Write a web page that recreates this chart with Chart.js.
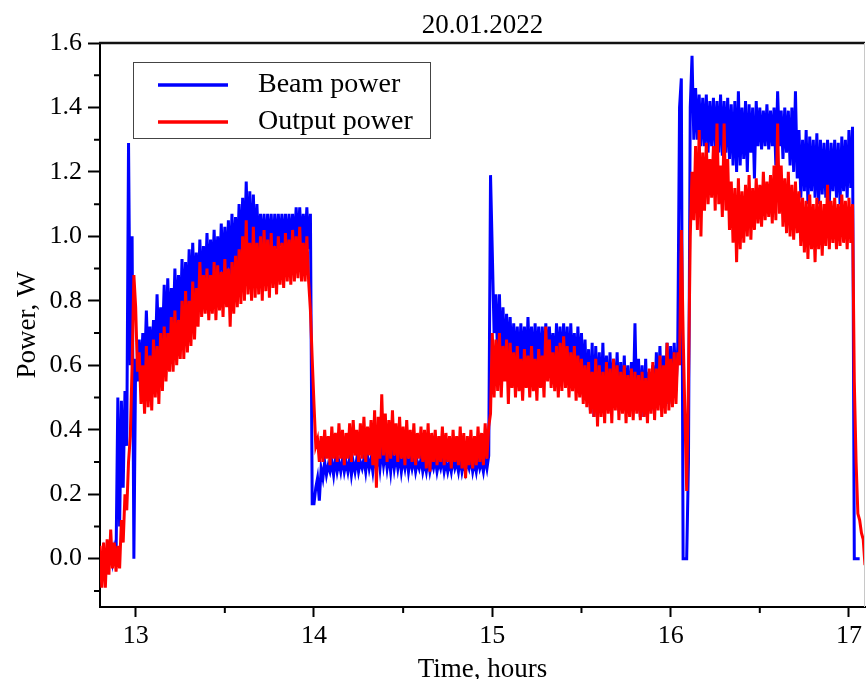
<!DOCTYPE html>
<html>
<head>
<meta charset="utf-8">
<title>Beam and output power, 20.01.2022</title>
<script src="https://cdn.jsdelivr.net/npm/chart.js@4.4.1/dist/chart.umd.min.js"></script>
<style>
  html, body { margin: 0; padding: 0; background: #fff; overflow: hidden; }
</style>
</head>
<body>
<canvas id="powerChart" width="866" height="679"></canvas>
<script>
// time grid (hours): one step every 0.02 h, two readings per step
// (upper and lower edge of the noisy trace)
const T0 = 12.80;
const DT = 0.02;

const beamHi = [
  0.02, 0.02, 0.02, 0.03, 0.03, 0.50, 0.49, 0.52, 1.29, 1.00,
  0.62, 0.68, 0.70, 0.77, 0.72, 0.74, 0.82, 0.78, 0.85, 0.87,
  0.84, 0.90, 0.88, 0.93, 0.92, 0.96, 0.98, 0.95, 0.99, 0.97,
  1.01, 0.99, 1.02, 1.00, 1.04, 1.03, 1.05, 1.07, 1.06, 1.10,
  1.12, 1.17, 1.14, 1.13, 1.10, 1.07, 1.07, 1.07, 1.07, 1.07,
  1.07, 1.07, 1.07, 1.07, 1.07, 1.09, 1.09, 1.07, 1.09, 1.07,
  0.17, 0.25, 0.28, 0.30, 0.29, 0.30, 0.31, 0.30, 0.31, 0.30,
  0.31, 0.30, 0.31, 0.30, 0.31, 0.32, 0.31, 0.32, 0.33, 0.34,
  0.33, 0.32, 0.33, 0.32, 0.32, 0.31, 0.32, 0.31, 0.31, 0.30,
  0.31, 0.30, 0.31, 0.30, 0.31, 0.30, 0.31, 0.30, 0.30, 0.31,
  0.30, 0.31, 0.30, 0.30, 0.31, 0.30, 0.31, 0.30, 0.31, 0.32,
  0.95, 0.82, 0.82, 0.78, 0.76, 0.75, 0.73, 0.72, 0.73, 0.72,
  0.75, 0.72, 0.73, 0.72, 0.72, 0.73, 0.72, 0.70, 0.73, 0.72,
  0.73, 0.72, 0.73, 0.70, 0.72, 0.70, 0.68, 0.65, 0.67, 0.66,
  0.64, 0.67, 0.63, 0.64, 0.62, 0.64, 0.61, 0.63, 0.60, 0.61,
  0.73, 0.62, 0.60, 0.62, 0.58, 0.60, 0.64, 0.66, 0.63, 0.67,
  0.66, 0.67, 0.66, 1.49, 0.00, 0.30, 1.56, 1.46, 1.44, 1.43,
  1.44, 1.42, 1.43, 1.42, 1.44, 1.42, 1.43, 1.41, 1.42, 1.45,
  1.40, 1.42, 1.41, 1.40, 1.42, 1.40, 1.39, 1.41, 1.39, 1.40,
  1.45, 1.39, 1.40, 1.39, 1.40, 1.45, 1.33, 1.30, 1.33, 1.31,
  1.30, 1.32, 1.30, 1.29, 1.30, 1.29, 1.30, 1.29, 1.31, 1.30,
  1.33, 1.34, 0.00, 0.00, null
];

const beamLo = [
  -0.02, -0.02, -0.01, -0.01, 0.00, 0.10, 0.22, 0.35, 0.60, 0.00,
  0.55, 0.56, 0.58, 0.60, 0.60, 0.62, 0.64, 0.66, 0.66, 0.68,
  0.70, 0.72, 0.72, 0.75, 0.76, 0.78, 0.80, 0.80, 0.82, 0.84,
  0.84, 0.86, 0.86, 0.86, 0.88, 0.88, 0.88, 0.90, 0.92, 0.92,
  0.94, 0.95, 0.92, 0.94, 0.95, 0.96, 0.95, 0.96, 0.95, 0.96,
  0.97, 0.96, 0.96, 0.97, 0.96, 0.97, 0.96, 0.97, 0.96, 0.17,
  0.22, 0.18, 0.25, 0.26, 0.27, 0.26, 0.27, 0.27, 0.27, 0.27,
  0.26, 0.27, 0.27, 0.28, 0.27, 0.28, 0.27, 0.28, 0.28, 0.29,
  0.28, 0.27, 0.28, 0.28, 0.27, 0.28, 0.27, 0.28, 0.27, 0.28,
  0.27, 0.27, 0.27, 0.28, 0.27, 0.28, 0.27, 0.27, 0.27, 0.28,
  0.27, 0.27, 0.27, 0.28, 0.27, 0.27, 0.28, 0.27, 0.28, 1.19,
  0.70, 0.62, 0.60, 0.60, 0.62, 0.60, 0.60, 0.58, 0.60, 0.58,
  0.60, 0.58, 0.60, 0.58, 0.60, 0.62, 0.60, 0.56, 0.58, 0.58,
  0.58, 0.56, 0.58, 0.56, 0.56, 0.54, 0.50, 0.46, 0.44, 0.48,
  0.46, 0.48, 0.46, 0.48, 0.48, 0.46, 0.47, 0.46, 0.45, 0.47,
  0.46, 0.44, 0.44, 0.44, 0.46, 0.46, 0.48, 0.47, 0.48, 0.48,
  0.50, 0.52, 1.40, 0.00, 0.00, 1.40, 1.30, 1.30, 1.28, 1.28,
  1.26, 1.28, 1.27, 1.26, 1.25, 1.26, 1.24, 1.22, 1.20, 1.22,
  1.24, 1.20, 1.26, 1.18, 1.28, 1.27, 1.28, 1.27, 1.28, 1.22,
  1.28, 1.24, 1.26, 1.22, 1.20, 1.18, 1.12, 1.14, 1.10, 1.14,
  1.12, 1.10, 1.13, 1.12, 1.10, 1.14, 1.12, 1.10, 1.14, 1.12,
  1.15, 0.00, 0.00, null, null
];

const outHi = [
  0.04, 0.05, 0.06, 0.09, 0.05, 0.04, 0.12, 0.20, 0.30, 0.60,
  0.78, 0.64, 0.60, 0.66, 0.63, 0.68, 0.66, 0.70, 0.72, 0.70,
  0.75, 0.77, 0.74, 0.80, 0.83, 0.80, 0.86, 0.84, 0.92, 0.88,
  0.90, 0.88, 0.92, 0.91, 0.89, 0.93, 0.90, 0.92, 0.94, 0.96,
  1.00, 1.05, 0.98, 1.03, 0.98, 1.00, 1.02, 0.99, 1.01, 0.97,
  1.00, 0.98, 1.01, 0.99, 1.02, 1.00, 1.03, 0.98, 1.00, 0.77,
  0.48, 0.37, 0.38, 0.40, 0.38, 0.41, 0.39, 0.42, 0.40, 0.39,
  0.42, 0.43, 0.40, 0.42, 0.44, 0.41, 0.43, 0.46, 0.44, 0.51,
  0.45, 0.43, 0.46, 0.42, 0.44, 0.41, 0.43, 0.40, 0.42, 0.39,
  0.41, 0.40, 0.42, 0.39, 0.40, 0.38, 0.41, 0.39, 0.38, 0.40,
  0.38, 0.41, 0.39, 0.38, 0.40, 0.38, 0.41, 0.39, 0.42, 0.41,
  0.70, 0.68, 0.70, 0.66, 0.68, 0.67, 0.64, 0.66, 0.62, 0.65,
  0.63, 0.66, 0.62, 0.65, 0.63, 0.72, 0.68, 0.64, 0.66, 0.67,
  0.69, 0.66, 0.64, 0.66, 0.63, 0.62, 0.60, 0.61, 0.58, 0.62,
  0.60, 0.58, 0.61, 0.59, 0.62, 0.60, 0.58, 0.60, 0.57, 0.59,
  0.58, 0.57, 0.58, 0.56, 0.59, 0.61, 0.59, 0.63, 0.60, 0.67,
  0.62, 0.64, 0.64, 1.02, 0.45, 0.55, 1.20, 1.28, 1.33, 1.26,
  1.29, 1.24, 1.28, 1.35, 1.22, 1.35, 1.24, 1.17, 1.15, 1.18,
  1.14, 1.16, 1.19, 1.15, 1.18, 1.16, 1.20, 1.17, 1.19, 1.22,
  1.35, 1.22, 1.18, 1.20, 1.16, 1.17, 1.14, 1.12, 1.11, 1.13,
  1.10, 1.12, 1.11, 1.10, 1.16, 1.11, 1.12, 1.10, 1.13, 1.11,
  1.12, 1.10, 0.30, 0.12, 0.06
];

const outLo = [
  -0.09, -0.09, -0.05, -0.03, -0.04, -0.03, 0.05, 0.15, 0.38, 0.88,
  0.58, 0.48, 0.45, 0.47, 0.46, 0.50, 0.48, 0.52, 0.55, 0.58,
  0.58, 0.60, 0.62, 0.62, 0.64, 0.66, 0.68, 0.72, 0.75, 0.76,
  0.74, 0.76, 0.74, 0.77, 0.75, 0.78, 0.72, 0.76, 0.78, 0.79,
  0.80, 0.82, 0.80, 0.81, 0.82, 0.80, 0.83, 0.81, 0.84, 0.82,
  0.85, 0.84, 0.86, 0.85, 0.86, 0.87, 0.86, 0.86, 0.86, 0.62,
  0.35, 0.30, 0.30, 0.31, 0.29, 0.31, 0.30, 0.31, 0.29, 0.31,
  0.30, 0.32, 0.30, 0.31, 0.30, 0.32, 0.29, 0.22, 0.31, 0.32,
  0.30, 0.31, 0.32, 0.30, 0.31, 0.29, 0.31, 0.30, 0.29, 0.31,
  0.30, 0.28, 0.27, 0.30, 0.29, 0.30, 0.29, 0.30, 0.28, 0.30,
  0.29, 0.28, 0.25, 0.29, 0.28, 0.29, 0.30, 0.29, 0.31, 0.45,
  0.50, 0.52, 0.50, 0.55, 0.48, 0.53, 0.50, 0.52, 0.49, 0.53,
  0.50, 0.52, 0.49, 0.53, 0.50, 0.55, 0.53, 0.52, 0.50, 0.52,
  0.53, 0.50, 0.52, 0.49, 0.50, 0.48, 0.47, 0.45, 0.44, 0.41,
  0.44, 0.42, 0.45, 0.42, 0.46, 0.43, 0.45, 0.42, 0.44, 0.43,
  0.45, 0.43, 0.44, 0.42, 0.45, 0.43, 0.46, 0.44, 0.45, 0.46,
  0.47, 0.48, 0.60, 0.70, 0.21, 1.00, 1.05, 1.02, 1.00, 1.08,
  1.10, 1.12, 1.08, 1.10, 1.06, 1.08, 1.02, 0.98, 0.92, 0.96,
  0.98, 1.00, 0.99, 1.02, 1.04, 1.03, 1.05, 1.06, 1.04, 1.05,
  1.07, 1.03, 1.01, 1.00, 0.99, 1.01, 0.97, 0.95, 0.93, 0.96,
  0.92, 0.96, 0.94, 0.97, 0.96, 0.98, 0.96, 0.97, 0.98, 0.96,
  0.98, 0.55, 0.14, 0.08, -0.02
];

const xTicks = [13, 14, 15, 16, 17];
const xMinorTicks = [13.5, 14.5, 15.5, 16.5];
const yTicks = [0.0, 0.2, 0.4, 0.6, 0.8, 1.0, 1.2, 1.4, 1.6];
const yMinorTicks = [-0.1, 0.1, 0.3, 0.5, 0.7, 0.9, 1.1, 1.3, 1.5];

const FONT = "'Liberation Serif', 'Times New Roman', serif";

// interleave the two readings of each step into one trace
function buildTrace(hi, lo) {
  const pts = [];
  hi.forEach((v, i) => {
    const t = T0 + i * DT;
    pts.push({ x: t, y: v });
    pts.push({ x: t + DT / 2, y: lo[i] });
  });
  return pts;
}

// top/right frame, minor ticks and the boxed legend inside the plot
const framePlugin = {
  id: 'frame',
  afterDatasetsDraw(chart) {
    const { ctx } = chart;
    ctx.save();

    // legend box
    const bx = 133, by = 62, bw = 297, bh = 76;
    ctx.fillStyle = '#fff';
    ctx.fillRect(bx, by, bw, bh);
    ctx.strokeStyle = '#444';
    ctx.lineWidth = 1;
    ctx.strokeRect(bx + 0.5, by + 0.5, bw, bh);
    ctx.font = '28px ' + FONT;
    ctx.textBaseline = 'middle';
    ctx.textAlign = 'left';
    chart.data.datasets.forEach((ds, k) => {
      const ly = 85 + k * 37;
      ctx.strokeStyle = ds.borderColor;
      ctx.lineWidth = 3.5;
      ctx.beginPath();
      ctx.moveTo(158, ly);
      ctx.lineTo(228, ly);
      ctx.stroke();
      ctx.fillStyle = '#000';
      ctx.fillText(ds.label, 258, ly);
    });
    ctx.restore();
  },
  afterDraw(chart) {
    const { ctx, chartArea: a, scales } = chart;
    ctx.save();
    // top border
    ctx.strokeStyle = '#111';
    ctx.lineWidth = 2.5;
    ctx.beginPath();
    ctx.moveTo(a.left - 1, a.top);
    ctx.lineTo(a.right, a.top);
    ctx.stroke();
    // right border (faint)
    ctx.strokeStyle = '#c8c8c8';
    ctx.lineWidth = 1;
    ctx.beginPath();
    ctx.moveTo(a.right - 0.5, a.top);
    ctx.lineTo(a.right - 0.5, a.bottom);
    ctx.stroke();
    // minor ticks
    ctx.strokeStyle = '#000';
    ctx.lineWidth = 2;
    ctx.beginPath();
    yMinorTicks.forEach(v => {
      const py = scales.y.getPixelForValue(v);
      ctx.moveTo(a.left - 6, py);
      ctx.lineTo(a.left, py);
    });
    xMinorTicks.forEach(v => {
      const px = scales.x.getPixelForValue(v);
      ctx.moveTo(px, a.bottom);
      ctx.lineTo(px, a.bottom + 6);
    });
    ctx.stroke();
    ctx.restore();
  }
};

new Chart(document.getElementById('powerChart'), {
  type: 'line',
  data: {
    datasets: [
      {
        label: 'Beam power',
        data: buildTrace(beamHi, beamLo),
        borderColor: '#0000ff',
        borderWidth: 3,
        pointRadius: 0,
        tension: 0,
        order: 1
      },
      {
        label: 'Output power',
        data: buildTrace(outHi, outLo),
        borderColor: '#ff0000',
        borderWidth: 3,
        pointRadius: 0,
        tension: 0,
        order: 0
      }
    ]
  },
  options: {
    responsive: false,
    animation: false,
    events: [],
    layout: { padding: { left: 0, right: 1, top: 0, bottom: 0 } },
    plugins: {
      legend: { display: false },
      tooltip: { enabled: false },
      title: {
        display: true,
        text: '20.01.2022',
        fullSize: false,
        color: '#000',
        font: { family: FONT, size: 27, weight: 'normal' },
        padding: { top: 10, bottom: 0.6 }
      }
    },
    scales: {
      x: {
        type: 'linear',
        min: 12.8,
        max: 17.09,
        afterBuildTicks(scale) { scale.ticks = xTicks.map(v => ({ value: v })); },
        afterFit(scale) { scale.height = 72; },
        grid: { drawOnChartArea: false, tickLength: 10, tickWidth: 2, tickColor: '#000' },
        border: { display: true, color: '#000', width: 2 },
        ticks: {
          color: '#000',
          padding: 4,
          maxRotation: 0,
          font: { family: FONT, size: 26 },
          callback: v => String(v)
        },
        title: {
          display: true,
          text: 'Time, hours',
          color: '#000',
          font: { family: FONT, size: 27 },
          padding: { top: 0, bottom: -7 }
        }
      },
      y: {
        min: -0.15,
        max: 1.6,
        afterBuildTicks(scale) { scale.ticks = yTicks.map(v => ({ value: v })); },
        afterFit(scale) { scale.width = 100; },
        grid: { drawOnChartArea: false, tickLength: 12, tickWidth: 2, tickColor: '#000' },
        border: { display: true, color: '#000', width: 2 },
        ticks: {
          color: '#000',
          padding: 6,
          font: { family: FONT, size: 26 },
          callback: v => v.toFixed(1)
        },
        title: {
          display: true,
          text: 'Power, W',
          color: '#000',
          font: { family: FONT, size: 27 },
          padding: { top: 12, bottom: 0 }
        }
      }
    }
  },
  plugins: [framePlugin]
});
</script>
</body>
</html>
